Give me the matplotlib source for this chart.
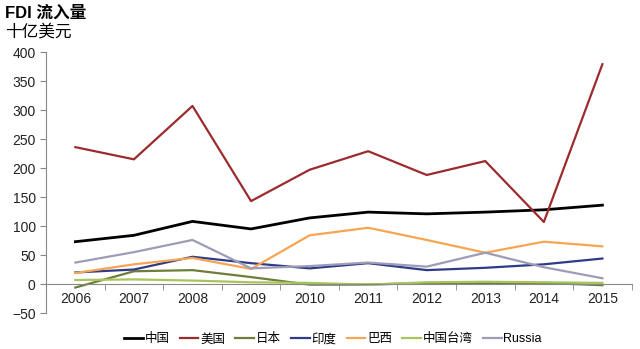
import numpy as np
import matplotlib
matplotlib.use('Agg')
import matplotlib.pyplot as plt

plt.rcParams['font.family'] = ['Liberation Sans', 'Noto Sans CJK SC', 'DejaVu Sans']

# ── Data (十亿美元) ───────────────────────────────────────────────────────────
years  = ['2006', '2007', '2008', '2009', '2010', '2011', '2012', '2013', '2014', '2015']
china  = [73, 84, 108, 95, 114, 124, 121, 124, 128, 136]
usa    = [236, 215, 307, 143, 197, 229, 188, 212, 107, 379]
japan  = [-6, 22, 24, 12, -1, -1, 2, 2, 2, -2]
india  = [20, 25, 47, 36, 27, 36, 24, 28, 34, 44]
brazil = [19, 34, 45, 26, 84, 97, 76, 54, 73, 65]
taiwan = [7, 8, 6, 3, 2, -1, 3, 4, 3, 2]
russia = [37, 55, 76, 27, 31, 37, 30, 54, 29, 10]

series = [
    ('中国',     china,  '#000000', 2.0),
    ('美国',     usa,    '#9B2B2E', 1.6),
    ('日本',     japan,  '#6E7E3A', 1.6),
    ('印度',     india,  '#2F3B86', 1.6),
    ('巴西',     brazil, '#F7A552', 1.6),
    ('中国台湾', taiwan, '#A8C55C', 1.6),
    ('Russia',   russia, '#9C9CB8', 1.6),
]

# ── Plot ──────────────────────────────────────────────────────────────────────
fig = plt.figure(figsize=(6.4, 3.49), dpi=100)
ax = fig.add_axes([0.072, 0.103, 0.915, 0.748])

x = np.arange(len(years))
for name, vals, color, lw in series:
    ax.plot(x, vals, color=color, lw=lw, label=name)

ax.set_xlim(-0.5, len(years) - 0.5)
ax.set_ylim(-50, 400)
ax.set_yticks(range(-50, 401, 50))
ax.set_xticks(x)
ax.set_xticklabels(years)
ax.set_xticks(np.arange(-0.5, len(years)), minor=True)

for s in ['top', 'right']:
    ax.spines[s].set_visible(False)
ax.spines['bottom'].set_position(('data', 0))
ax.spines['left'].set_color('#888888')
ax.spines['bottom'].set_color('#888888')
ax.tick_params(axis='x', which='major', length=0, pad=6, labelsize=10, colors='#222222')
ax.tick_params(axis='x', which='minor', length=4, color='#888888')
ax.tick_params(axis='y', length=4, color='#888888', labelsize=10, labelcolor='#222222')

fig.text(0.008, 0.963, 'FDI 流入量', fontsize=12, fontweight='bold', va='center')
fig.text(0.008, 0.91, '十亿美元', fontsize=12, va='center')

ax.legend(loc='upper center', bbox_to_anchor=(0.49, -0.035), ncol=7, frameon=False,
          fontsize=9, handlelength=1.5, handletextpad=0.15, columnspacing=0.8)

plt.savefig('out.png', dpi=100)
